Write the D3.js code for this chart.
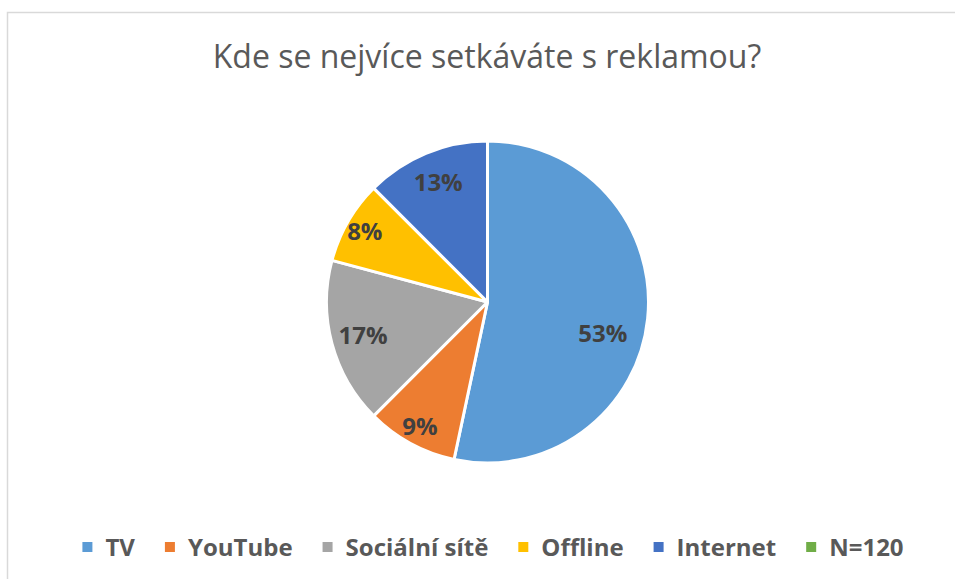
<!DOCTYPE html>
<html>
<head>
<meta charset="utf-8">
<script src="https://cdn.jsdelivr.net/npm/d3@7"></script>
<style>
  body { margin: 0; background: #fff; }
  svg { display: block; }
</style>
</head>
<body>
<svg width="955" height="579"></svg>
<script>
  // data
  var categories = ['TV', 'YouTube', 'Sociální sítě', 'Offline', 'Internet', 'N=120'];
  var counts = [64, 11, 20, 10, 15, 0];
  var colors = ['#5B9BD5', '#ED7D31', '#A5A5A5', '#FFC000', '#4472C4', '#70AD47'];
  var title = 'Kde se nejvíce setkáváte s reklamou?';

  var data = categories.map(function(c, i) {
    return { name: c, value: counts[i], color: colors[i] };
  });
  var total = d3.sum(counts);
  var font = '"Open Sans", sans-serif';

  var svg = d3.select('svg'),
    width = +svg.attr('width'),
    height = +svg.attr('height');

  // chart border
  svg.append('rect')
    .attr('x', 7.5)
    .attr('y', 12.5)
    .attr('width', width)
    .attr('height', height)
    .attr('fill', '#fff')
    .attr('stroke', '#d9d9d9')
    .attr('stroke-width', 1.5);

  // title
  svg.append('text')
    .attr('x', 487)
    .attr('y', 68)
    .attr('text-anchor', 'middle')
    .style('font-family', font)
    .style('font-size', '32px')
    .attr('fill', '#595959')
    .text(title);

  // pie
  var cx = 487.5, cy = 302, r = 161;
  var g = svg.append('g').attr('transform', 'translate(' + cx + ',' + cy + ')');

  var pie = d3.pie().sort(null).value(function(d) { return d.value; });
  var arc = d3.arc().innerRadius(0).outerRadius(r);
  var labelArc = d3.arc().innerRadius(r * 0.8).outerRadius(r * 0.8);
  var arcs = pie(data).filter(function(d) { return d.data.value > 0; });

  g.selectAll('path.slice')
    .data(arcs)
    .enter().append('path')
    .attr('class', 'slice')
    .attr('d', arc)
    .attr('fill', function(d) { return d.data.color; })
    .attr('stroke', '#fff')
    .attr('stroke-width', 3)
    .attr('stroke-linejoin', 'round');

  g.selectAll('text.lbl')
    .data(arcs)
    .enter().append('text')
    .attr('class', 'lbl')
    .attr('transform', function(d) {
      var span = d.endAngle - d.startAngle;
      var k = span < 0.6 ? 1.1 : 1; // thin slices push label outwards
      var c = labelArc.centroid(d);
      c = [c[0] * k, c[1] * k];
      // big slice label sits closer to the middle in the original
      if (span > Math.PI) c = [c[0] * 0.9, c[1] + 18];
      return 'translate(' + c[0] + ',' + c[1] + ')';
    })
    .attr('text-anchor', 'middle')
    .attr('dy', '0.35em')
    .style('font-family', font)
    .style('font-weight', 700)
    .style('font-size', '24px')
    .attr('fill', '#404040')
    .text(function(d) { return Math.round(d.data.value / total * 100) + '%'; });

  // legend
  var legend = svg.append('g');
  var items = legend.selectAll('g.item')
    .data(data)
    .enter().append('g')
    .attr('class', 'item');

  items.append('rect')
    .attr('width', 10)
    .attr('height', 10)
    .attr('y', -14)
    .attr('fill', function(d) { return d.color; });

  items.append('text')
    .attr('x', 23)
    .style('font-family', font)
    .style('font-weight', 700)
    .style('font-size', '24px')
    .attr('fill', '#595959')
    .text(function(d) { return d.name; });

  var gap = 30, xpos = 0, offs = [];
  items.each(function() {
    offs.push(xpos);
    xpos += 23 + this.querySelector('text').getComputedTextLength() + gap;
  });
  var legendW = xpos - gap;
  items.attr('transform', function(d, i) { return 'translate(' + offs[i] + ',0)'; });
  legend.attr('transform', 'translate(' + (493 - legendW / 2) + ',556)');
</script>
</body>
</html>
